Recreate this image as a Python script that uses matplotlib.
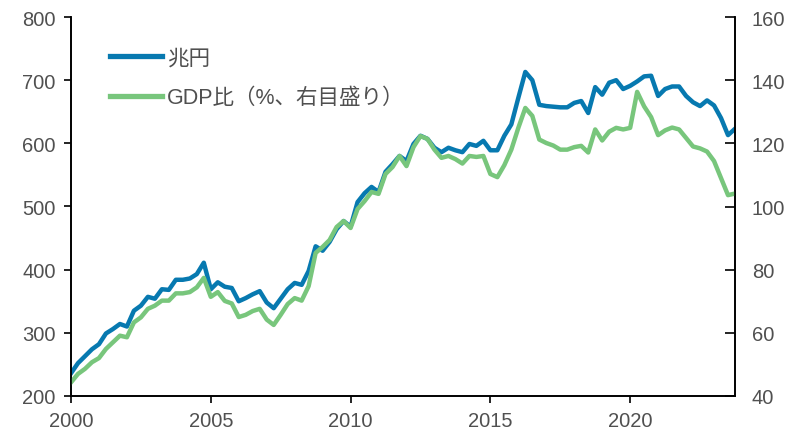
import matplotlib
matplotlib.use("Agg")
import matplotlib.pyplot as plt
import numpy as np

plt.rcParams['font.family'] = ['Liberation Sans', 'Noto Sans CJK JP']

start_year = 2000
# 兆円 (left axis), quarterly 2000Q1-2023Q4
trillion_yen = [
    236, 252, 263, 274,
    282, 299, 306, 314,
    310, 335, 343, 357,
    354, 369, 368, 384,
    384, 386, 393, 411,
    369, 380, 373, 371,
    350, 355, 361, 366,
    348, 339, 354, 369,
    379, 376, 398, 437,
    430, 444, 464, 477,
    468, 507, 521, 531,
    523, 555, 567, 580,
    572, 599, 612, 607,
    593, 586, 593, 589,
    586, 599, 596, 604,
    589, 589, 612, 630,
    672, 713, 700, 661,
    659, 658, 657, 657,
    664, 667, 648, 689,
    677, 696, 700, 686,
    691, 698, 706, 707,
    675, 686, 690, 690,
    675, 665, 659, 668,
    660, 640, 613, 623,
]
# GDP比 (%, right axis)
gdp_ratio = [
    44.3, 47.0, 48.6, 50.7,
    52.0, 54.9, 57.0, 59.1,
    58.6, 63.3, 64.9, 67.6,
    68.6, 70.2, 70.2, 72.5,
    72.5, 72.9, 74.4, 77.4,
    71.4, 72.9, 70.1, 69.3,
    65.0, 65.7, 66.9, 67.6,
    64.2, 62.5, 65.7, 69.1,
    71.0, 70.2, 74.8, 85.3,
    87.2, 89.4, 93.5, 95.4,
    93.2, 99.2, 101.7, 104.6,
    104.0, 110.3, 112.5, 116.0,
    112.8, 118.8, 122.3, 121.4,
    118.0, 115.4, 116.0, 115.0,
    113.6, 116.0, 115.7, 116.0,
    110.3, 109.3, 113.1, 118.0,
    124.9, 131.2, 128.7, 121.2,
    120.1, 119.3, 118.0, 118.0,
    118.8, 119.2, 117.1, 124.4,
    120.9, 123.7, 124.9, 124.4,
    124.9, 136.3, 131.7, 128.3,
    122.6, 124.1, 125.0, 124.4,
    121.7, 119.0, 118.4, 117.4,
    114.4, 109.0, 103.6, 104.1,
]
label_yen = '兆円'
label_ratio = 'GDP比（%、右目盛り）'
left_ticks = [200, 300, 400, 500, 600, 700, 800]
right_ticks = [40, 60, 80, 100, 120, 140, 160]
x_ticks = [2000, 2005, 2010, 2015, 2020]

x = start_year + np.arange(len(trillion_yen)) / 4.0

blue = '#0779B0'
green = '#78C67C'
gray = '#505050'

fig = plt.figure(figsize=(7.93, 4.31), dpi=100)
ax = fig.add_axes([71/793, 1-397/431, (735-71)/793, (397-18)/431])
ax2 = ax.twinx()

l1, = ax.plot(x, trillion_yen, color=blue, lw=3.2, solid_joinstyle='round', label=label_yen)
l2, = ax2.plot(x, gdp_ratio, color=green, lw=3.2, solid_joinstyle='round', label=label_ratio)

ax.set_xlim(2000, x[-1])
ax.set_ylim(200, 800)
ax2.set_ylim(40, 160)
ax.set_xticks(x_ticks)
ax.set_yticks(left_ticks)
ax2.set_yticks(right_ticks)

for a in (ax, ax2):
    a.spines['top'].set_visible(False)
    for s in ('left', 'right', 'bottom'):
        a.spines[s].set_color('black')
        a.spines[s].set_linewidth(1.2)

ax.tick_params(axis='both', direction='out', length=5, width=1.2, color='black',
               labelsize=14.5, labelcolor=gray, pad=6)
ax2.tick_params(axis='y', direction='in', length=7, width=1.2, color='black',
                labelsize=14.5, labelcolor=gray, pad=12)

leg = ax2.legend(handles=[l1, l2], loc='upper left', bbox_to_anchor=(0.03, 0.97),
                 frameon=False, fontsize=15.5, handlelength=2.4, handletextpad=0.25,
                 labelspacing=0.85)
for t in leg.get_texts():
    t.set_color(gray)
for h in leg.get_lines():
    h.set_linewidth(3.8)

fig.savefig('out.png', dpi=100)
